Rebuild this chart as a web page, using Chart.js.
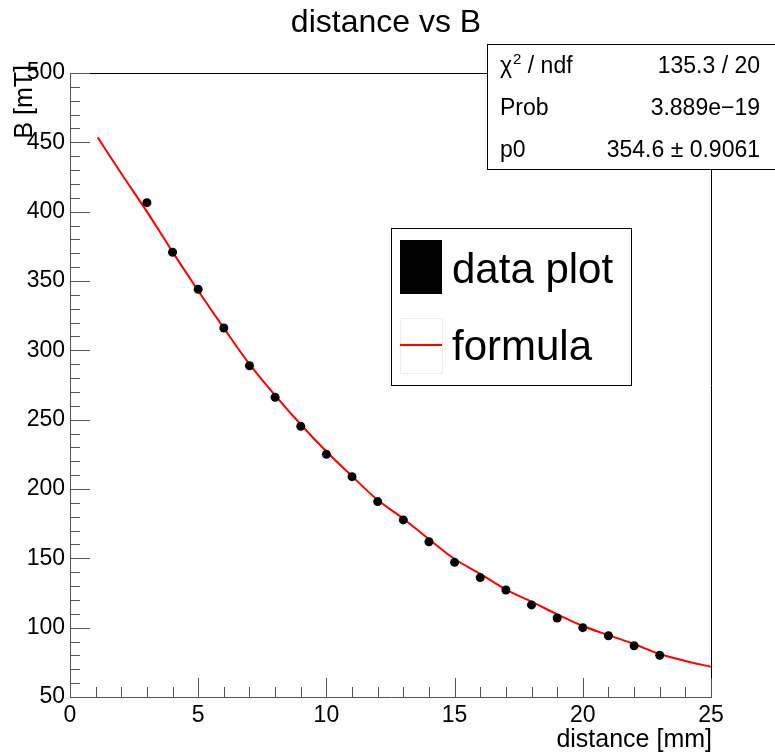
<!DOCTYPE html>
<html>
<head>
<meta charset="utf-8">
<script src="https://cdn.jsdelivr.net/npm/chart.js@4.4.1/dist/chart.umd.min.js"></script>
<style>
  html, body { margin: 0; padding: 0; background: #fff; }
  #wrap { width: 775px; height: 756px; }
</style>
</head>
<body>
<div id="wrap"><canvas id="chart" width="775" height="756"></canvas></div>
<script>
// measured points
const distance = [3, 4, 5, 6, 7, 8, 9, 10, 11, 12, 13, 14, 15, 16, 17, 18, 19, 20, 21, 22, 23];
const bField = [406.5, 370.7, 344, 316.1, 288.9, 266.1, 245.2, 225, 208.9, 190.9, 177.7, 162,
  147.1, 136.1, 127.2, 116.4, 107, 100, 94.2, 87, 80.1];

// fitted curve
const fitX = [1.08, 2, 3, 4, 5, 6, 7, 8, 9, 10, 11, 12, 13, 14, 15, 16, 17, 18, 19, 20, 21, 22, 23, 24, 25];
const fitB = [453.6, 427.5, 400, 371, 343, 316, 290, 267.5, 246.5, 227, 209.2, 192, 178.6, 163.8,
  149.5, 138.8, 127.5, 118.8, 109.6, 101.2, 94.6, 88.2, 81, 76, 71.8];

const chartTitle = 'distance vs B';
const xTitle = 'distance [mm]';
const yTitle = 'B [mT]';
const statNames = ['Prob', 'p0'];
const statValues = ['135.3 / 20', '3.889e\u221219', '354.6 \u00b1 0.9061'];

const FONT = '"Liberation Sans", Arial, sans-serif';

// ROOT-like frame, inner ticks, titles, stats box and legend
const rootDecor = {
  id: 'rootDecor',
  afterDraw(chart) {
    const ctx = chart.ctx;
    const a = chart.chartArea;
    const xs = chart.scales.x, ys = chart.scales.y;
    ctx.save();

    // frame
    ctx.strokeStyle = '#000';
    ctx.lineWidth = 1;
    ctx.beginPath();
    ctx.moveTo(a.left + 0.5, a.top + 0.5);
    ctx.lineTo(a.right + 0.5, a.top + 0.5);
    ctx.lineTo(a.right + 0.5, a.bottom + 0.5);
    ctx.stroke();
    ctx.strokeStyle = '#555';
    ctx.beginPath();
    ctx.moveTo(a.left + 0.5, a.top);
    ctx.lineTo(a.left + 0.5, a.bottom + 0.5);
    ctx.lineTo(a.right + 1, a.bottom + 0.5);
    ctx.stroke();

    // ticks
    ctx.beginPath();
    for (let v = 0; v <= 25; v++) {
      const px = Math.round(xs.getPixelForValue(v)) + 0.5;
      const len = v % 5 === 0 ? 19 : 10;
      ctx.moveTo(px, a.bottom);
      ctx.lineTo(px, a.bottom - len);
    }
    for (let v = 50; v <= 500; v += 10) {
      const py = Math.round(ys.getPixelForValue(v)) + 0.5;
      const len = v % 50 === 0 ? 20 : 10;
      ctx.moveTo(a.left, py);
      ctx.lineTo(a.left + len, py);
    }
    ctx.stroke();

    // titles
    ctx.fillStyle = '#000';
    ctx.font = '32px ' + FONT;
    ctx.textAlign = 'center';
    ctx.textBaseline = 'middle';
    ctx.fillText(chartTitle, 386, 23);

    ctx.font = '25px ' + FONT;
    ctx.textAlign = 'right';
    ctx.fillText(xTitle, 712, 740);

    ctx.save();
    ctx.translate(25, 65);
    ctx.rotate(-Math.PI / 2);
    ctx.textAlign = 'right';
    ctx.fillText(yTitle, 0, 0);
    ctx.restore();

    // stats box
    ctx.fillStyle = '#fff';
    ctx.fillRect(487, 44, 290, 125);
    ctx.strokeStyle = '#000';
    ctx.strokeRect(487.5, 44.5, 290, 125);
    ctx.fillStyle = '#000';
    ctx.font = '23px ' + FONT;
    ctx.textAlign = 'left';
    const rows = [67, 109, 151];
    ctx.fillText('\u03c7', 500, rows[0]);
    const w = ctx.measureText('\u03c7').width;
    ctx.font = '15px ' + FONT;
    ctx.fillText('2', 500 + w + 1, rows[0] - 7);
    const w2 = ctx.measureText('2').width;
    ctx.font = '23px ' + FONT;
    ctx.fillText(' / ndf', 500 + w + 1 + w2, rows[0]);
    ctx.fillText(statNames[0], 500, rows[1]);
    ctx.fillText(statNames[1], 500, rows[2]);
    ctx.textAlign = 'right';
    statValues.forEach((s, i) => ctx.fillText(s, 760, rows[i]));

    // legend
    ctx.fillStyle = '#fff';
    ctx.fillRect(391, 228, 240, 157);
    ctx.strokeStyle = '#000';
    ctx.strokeRect(391.5, 228.5, 240, 157);
    ctx.fillStyle = '#000';
    ctx.fillRect(400, 240, 42, 54);
    ctx.strokeStyle = '#eee';
    ctx.strokeRect(400.5, 318.5, 42, 55);
    ctx.strokeStyle = '#ff0000';
    ctx.lineWidth = 2;
    ctx.beginPath();
    ctx.moveTo(400, 345);
    ctx.lineTo(442, 345);
    ctx.stroke();
    ctx.fillStyle = '#000';
    ctx.font = '42px ' + FONT;
    ctx.textAlign = 'left';
    ctx.fillText(chart.data.datasets[0].label, 452, 271);
    ctx.fillText(chart.data.datasets[1].label, 452, 348);

    ctx.restore();
  }
};

new Chart(document.getElementById('chart'), {
  type: 'scatter',
  data: {
    datasets: [
      {
        label: 'data plot',
        data: distance.map((d, i) => ({ x: d, y: bField[i] })),
        pointRadius: 4.5,
        pointBackgroundColor: '#000',
        pointBorderWidth: 0,
        showLine: false
      },
      {
        label: 'formula',
        data: fitX.map((d, i) => ({ x: d, y: fitB[i] })),
        showLine: true,
        pointRadius: 0,
        borderColor: '#ff0000',
        borderWidth: 2,
        cubicInterpolationMode: 'monotone'
      }
    ]
  },
  options: {
    responsive: false,
    animation: false,
    layout: { padding: { left: 0, top: 73, right: 64, bottom: 0 } },
    plugins: { legend: { display: false }, tooltip: { enabled: false } },
    scales: {
      x: {
        type: 'linear', min: 0, max: 25,
        afterFit(s) { s.height = 59; },
        grid: { display: false, drawTicks: false },
        border: { display: false },
        ticks: { stepSize: 5, padding: 5, color: '#000', maxRotation: 0, font: { family: FONT, size: 23 } }
      },
      y: {
        type: 'linear', min: 50, max: 500,
        afterFit(s) { s.width = 70; },
        grid: { display: false, drawTicks: false },
        border: { display: false },
        ticks: { stepSize: 50, padding: 5, color: '#000', font: { family: FONT, size: 23 } }
      }
    }
  },
  plugins: [rootDecor]
});
</script>
</body>
</html>
